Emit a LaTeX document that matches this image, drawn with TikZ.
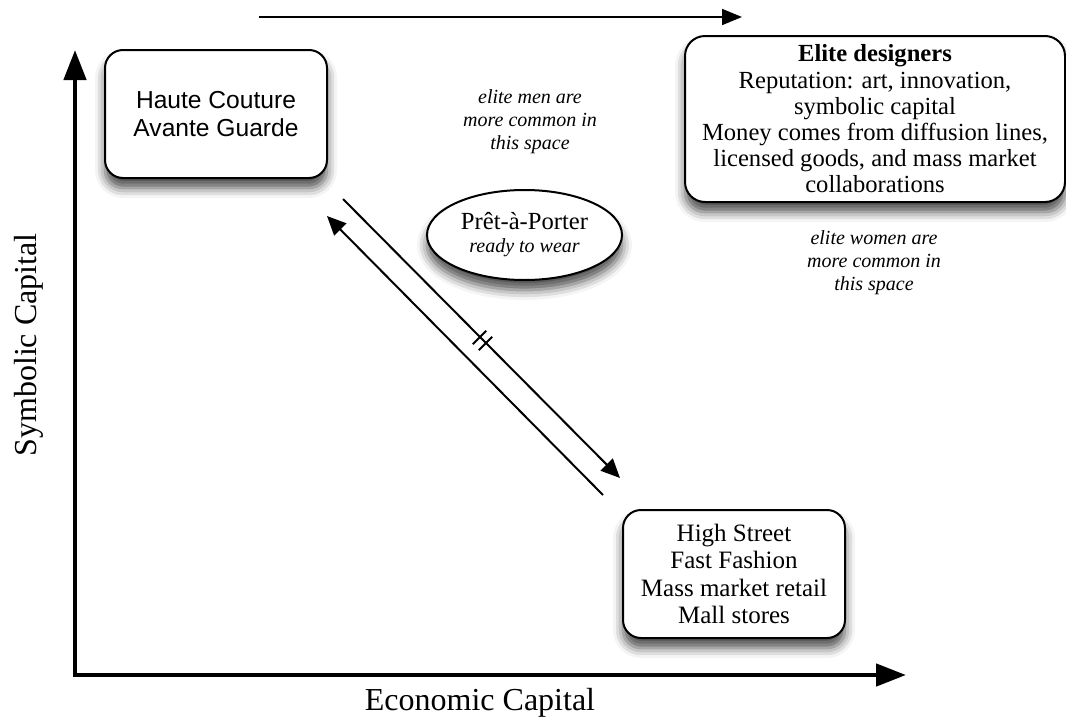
\documentclass[tikz,border=0pt]{standalone}
\usepackage{fontspec}
\setmainfont{Liberation Serif}
\setsansfont{Liberation Sans}
\usetikzlibrary{arrows.meta,shapes.geometric,shadows.blur}

\begin{document}
\begin{tikzpicture}[x=0.5pt,y=-0.5pt,
  softshadow/.style={blur shadow={shadow xshift=0pt,shadow yshift=-5pt,shadow blur radius=5pt,shadow opacity=70}},
  card/.style={draw,line width=1pt,rounded corners=9pt,fill=white,align=center,softshadow},
  remark/.style={align=center,font=\fontsize{10}{11.5}\selectfont\itshape},
  capaxis/.style={line width=2.3pt,{Triangle[width=11pt,length=15pt]}-{Triangle[width=11pt,length=15pt]}},
  link/.style={line width=1pt,-{Triangle[width=8.5pt,length=9.5pt]}},
  ]
\useasboundingbox (0,0) rectangle (1066,718);
%\draw[gray!30,very thin] (0,0) grid[step=50] (1066,718);

% axes
\coordinate (origin) at (75,675);
\coordinate (ytip) at (75,50);
\coordinate (xtip) at (906,675);
\draw[capaxis] (ytip) -- (origin) -- (xtip);
\node[rotate=90,anchor=base,font=\fontsize{16}{19}\selectfont] (ylab) at (36,345) {Symbolic Capital};
\node[anchor=base,font=\fontsize{16}{19}\selectfont] (xlab) at (480,710) {Economic Capital};

\coordinate (topL) at (259,17);
\coordinate (topR) at (742,17);
\draw[line width=0.9pt,-{Triangle[width=8pt,length=10pt]}] (topL) -- (topR);

% boxes
\node[card,font=\sffamily\fontsize{12.3}{14}\selectfont,minimum width=111pt,minimum height=64pt] (haute) at (216,114) {Haute Couture\\Avante Guarde};
\node[card,font=\fontsize{12.3}{13.1}\selectfont,minimum width=190pt,minimum height=83pt,rounded corners=10pt] (elite) at (875,119)
  {\textbf{Elite designers}\\Reputation: art, innovation,\\symbolic capital\\Money comes from diffusion lines,\\licensed goods, and mass market\\collaborations};
\node[card,font=\fontsize{12.5}{13.65}\selectfont,minimum width=111pt,minimum height=64pt] (street) at (734,574)
  {High Street\\Fast Fashion\\Mass market retail\\Mall stores};
\node[ellipse,draw,line width=1pt,fill=white,align=center,inner sep=0pt,minimum width=97.5pt,minimum height=45pt,
  softshadow,font=\fontsize{12.3}{11.5}\selectfont] (pret) at (524.5,235)
  {Prêt-à-Porter\\\fontsize{10}{11.5}\selectfont\itshape ready to wear};

\node[remark] (menNote) at (530,122) {elite men are\\more common in\\this space};
\node[remark] (womenNote) at (874,263) {elite women are\\more common in\\this space};

% two way movement
\coordinate (downA) at (343,199);
\coordinate (downB) at (620,478);
\coordinate (upA) at (603,495);
\coordinate (upB) at (327,216);
\draw[link] (downA) -- (downB);
\draw[link] (upA) -- (upB);
\coordinate (tickC) at (482.5,340.5);
\foreach \s in {-3,3}
  \draw[line width=1pt] ([shift={(\s,\s)}]tickC) ++(-6.7,6.7) -- ++(13.4,-13.4);
\end{tikzpicture}
\end{document}
